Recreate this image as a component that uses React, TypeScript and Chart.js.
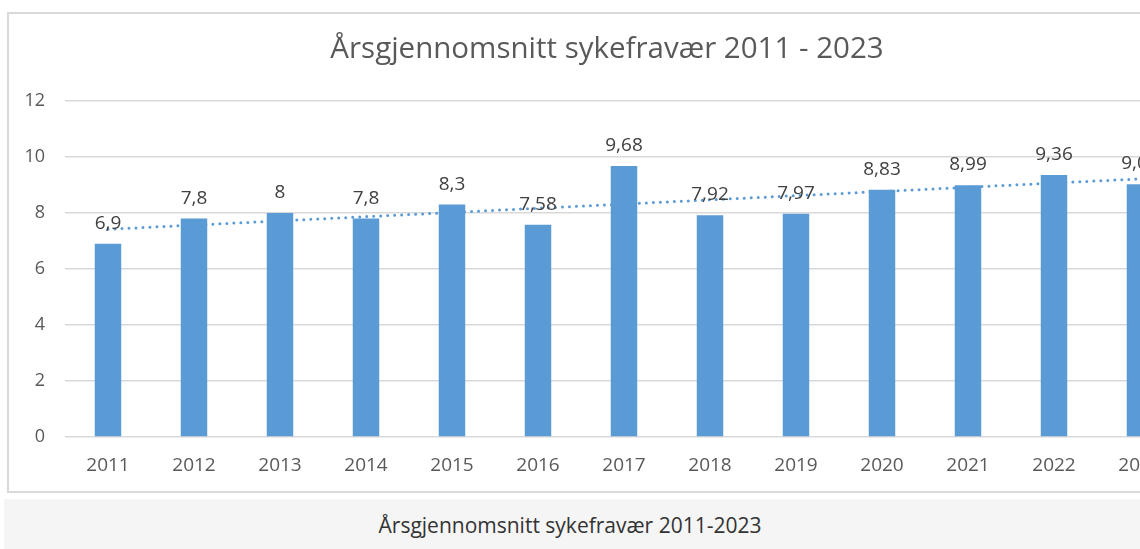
import React, { useEffect, useRef } from "react";
import { Chart, registerables } from "chart.js";

Chart.register(...registerables);

const categories = ["2011", "2012", "2013", "2014", "2015", "2016", "2017", "2018", "2019", "2020", "2021", "2022", "2023"];
const sickLeave = [6.9, 7.8, 8, 7.8, 8.3, 7.58, 9.68, 7.92, 7.97, 8.83, 8.99, 9.36, 9.03];
const yTickValues = [0, 2, 4, 6, 8, 10, 12];
const chartTitle = "Årsgjennomsnitt sykefravær 2011 - 2023";
const captionText = "Årsgjennomsnitt sykefravær 2011-2023";

// Excel-style linear trendline (least squares fit of the bar values)
function linearTrend(values: number[]): number[] {
  const n = values.length;
  const mx = (n - 1) / 2;
  const my = values.reduce((a, b) => a + b, 0) / n;
  let sxy = 0;
  let sxx = 0;
  values.forEach((v, i) => {
    sxy += (i - mx) * (v - my);
    sxx += (i - mx) * (i - mx);
  });
  const slope = sxy / sxx;
  return values.map((_, i) => my + slope * (i - mx));
}

const fmt = (v: number) => String(v).replace(".", ",");

const FONT = "'Open Sans', 'DejaVu Sans', sans-serif";

const CANVAS_W = 1196;
const CANVAS_H = 477;
const TITLE_SIZE = 29.5;

const labelPlugin = {
  id: "barValueLabels",
  afterDatasetsDraw(chart: any) {
    const ctx = chart.ctx;
    const meta = chart.getDatasetMeta(1);
    ctx.save();
    ctx.fillStyle = "#404040";
    ctx.font = `19px ${FONT}`;
    ctx.textAlign = "center";
    ctx.textBaseline = "alphabetic";
    meta.data.forEach((bar: any, i: number) => {
      ctx.fillText(fmt(sickLeave[i]), bar.x, bar.y - 15);
    });
    ctx.restore();
  },
};

const titlePlugin = {
  id: "centeredTitle",
  afterDraw(chart: any) {
    const ctx = chart.ctx;
    ctx.save();
    ctx.fillStyle = "#595959";
    ctx.font = `${TITLE_SIZE}px ${FONT}`;
    ctx.textAlign = "center";
    ctx.textBaseline = "middle";
    ctx.fillText(chartTitle, chart.width / 2, 36);
    ctx.restore();
  },
};

export default function App() {
  const ref = useRef<HTMLCanvasElement | null>(null);

  useEffect(() => {
    if (!ref.current) return;
    const chart = new Chart(ref.current, {
      type: "bar",
      data: {
        labels: categories,
        datasets: [
          {
            type: "line",
            label: "Trend",
            data: linearTrend(sickLeave),
            borderColor: "#5b9bd5",
            borderWidth: 3,
            borderDash: [0, 7],
            borderCapStyle: "round",
            pointRadius: 0,
            fill: false,
            tension: 0,
            order: 0,
          } as any,
          {
            type: "bar",
            label: "Sykefravær",
            data: sickLeave,
            backgroundColor: "#5b9bd5",
            barPercentage: 0.308,
            categoryPercentage: 1,
            order: 1,
          } as any,
        ],
      },
      options: {
        responsive: false,
        animation: false,
        layout: { padding: { left: 0, right: CANVAS_W - 1174, top: 87, bottom: 0 } },
        plugins: {
          legend: { display: false },
          tooltip: { enabled: false },
          title: { display: false },
        },
        scales: {
          x: {
            grid: { display: false, drawTicks: false },
            border: { display: false },
            ticks: {
              color: "#595959",
              font: { family: FONT, size: 19 },
              padding: 17,
              maxRotation: 0,
              autoSkip: false,
            },
            afterFit(scale: any) {
              scale.height = 54;
            },
          },
          y: {
            min: 0,
            max: 12,
            grid: { color: "#d9d9d9", lineWidth: 1.5, drawTicks: false },
            border: { display: false },
            afterBuildTicks(scale: any) {
              scale.ticks = yTickValues.map((v) => ({ value: v }));
            },
            ticks: {
              color: "#595959",
              font: { family: FONT, size: 18 },
              padding: 20,
            },
            afterFit(scale: any) {
              scale.width = 56;
            },
          },
        },
      },
      plugins: [labelPlugin, titlePlugin],
    });
    return () => chart.destroy();
  }, []);

  return (
    <div
      style={{
        position: "absolute",
        left: 0,
        top: 0,
        width: 1140,
        height: 549,
        overflow: "hidden",
        background: "#ffffff",
      }}
    >
      <div
        style={{
          position: "absolute",
          left: 7,
          top: 12,
          width: 1200,
          height: 481,
          border: "2px solid #d9d9d9",
          boxSizing: "border-box",
          background: "#ffffff",
        }}
      >
        <canvas
          ref={ref}
          width={CANVAS_W}
          height={CANVAS_H}
          style={{ position: "absolute", left: 0, top: 0, width: CANVAS_W, height: CANVAS_H }}
        />
      </div>
      <div
        style={{
          position: "absolute",
          left: 4,
          top: 499,
          width: 1200,
          height: 50,
          background: "#f5f5f5",
        }}
      />
      <div
        style={{
          position: "absolute",
          left: 0,
          top: 500,
          width: 1140,
          height: 50,
          lineHeight: "50px",
          textAlign: "center",
          fontFamily: FONT,
          fontSize: 21,
          color: "#333333",
        }}
      >
        {captionText}
      </div>
    </div>
  );
}
